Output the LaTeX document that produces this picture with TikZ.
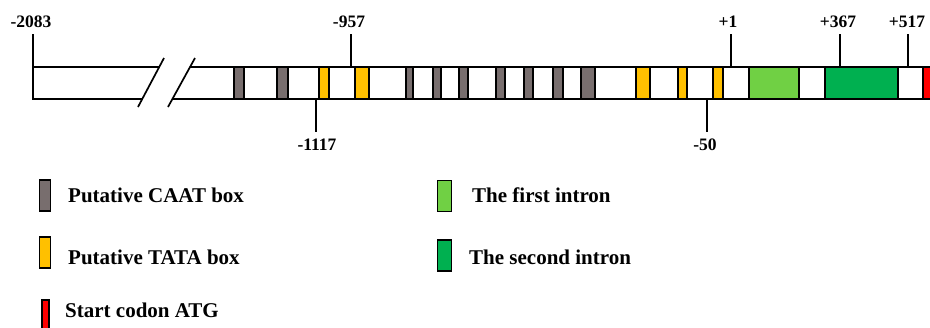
\documentclass[tikz,border=0pt]{standalone}
\usepackage{fontspec}
\setmainfont{Liberation Serif}
\definecolor{caat}{RGB}{120,110,110}
\definecolor{tata}{RGB}{255,192,0}
\definecolor{introna}{RGB}{112,208,68}
\definecolor{intronb}{RGB}{0,176,80}
\definecolor{atg}{RGB}{255,0,0}
\tikzset{
  barline/.style={line width=1.7pt, line cap=butt},
  seg/.style={draw=black, line width=1.2pt, inner sep=0pt, outer sep=0pt, minimum height=32pt},
  tickline/.style={line width=1.1pt},
  poslabel/.style={font=\fontsize{17.5}{20}\selectfont\bfseries, inner sep=1pt},
  legtext/.style={font=\fontsize{21}{24}\selectfont\bfseries, anchor=west, inner sep=0pt},
  legbox/.style={draw=black, line width=1.1pt, inner sep=0pt, outer sep=0pt}
}
\begin{document}
\begin{tikzpicture}[x=1pt,y=-1pt]
\useasboundingbox (0,0) rectangle (930,327);
\clip (0,0) rectangle (930,327);

% gene body, split by a break
\fill[white] (33,67) -- (159,67) -- (142,99) -- (33,99) -- cycle;
\fill[white] (190,67) -- (945,67) -- (945,99) -- (172.4,99) -- cycle;
\draw[barline] (159,67) -- (33,67) -- (33,99) -- (142,99);
\draw[barline] (190,67) -- (945,67);
\draw[barline] (172.4,99) -- (945,99);
\draw[barline] (138,107) -- (164,58);
\draw[barline] (168,107) -- (195,58);

% putative CAAT boxes
\foreach \a/\b [count=\i] in {234/244,277/288,406/413,433/441,459/468,496/505,524/533,553/563,581/595}
  \node[seg, fill=caat, minimum width={(\b-\a)*1pt}] (caat\i) at ({(\a+\b)/2},83) {};
% putative TATA boxes
\foreach \a/\b [count=\i] in {319/329,355/369,636/650,678/687,713/723}
  \node[seg, fill=tata, minimum width={(\b-\a)*1pt}] (tata\i) at ({(\a+\b)/2},83) {};
% introns and start codon
\node[seg, fill=introna, minimum width=50pt] (intron1) at (774,83) {};
\node[seg, fill=intronb, minimum width=73pt] (intron2) at (861.5,83) {};
\node[seg, fill=atg, minimum width=12pt] (start) at (929,83) {};

% position marks above the bar
\coordinate (t2083) at (33,67);
\coordinate (t957) at (351,67);
\coordinate (tp1) at (731,67);
\coordinate (tp367) at (840,67);
\coordinate (tp517) at (908,67);
\node[poslabel] (p2083) at (31,22) {-2083};
\node[poslabel] (p957) at (349,22) {-957};
\node[poslabel] (pp1) at (728,22) {+1};
\node[poslabel] (pp367) at (838,22) {+367};
\node[poslabel] (pp517) at (907,22) {+517};
\draw[tickline] (t2083 |- 0,34) -- (t2083);
\draw[tickline] (t957 |- 0,34) -- (t957);
\draw[tickline] (tp1 |- 0,34) -- (tp1);
\draw[tickline] (tp367 |- 0,34) -- (tp367);
\draw[tickline] (tp517 |- 0,34) -- (tp517);

% position marks below the bar
\coordinate (t1117) at (316,99);
\coordinate (t50) at (707,99);
\node[poslabel] (p1117) at (317,145) {-1117};
\node[poslabel] (p50) at (705,145) {-50};
\draw[tickline] (t1117) -- (t1117 |- 0,132);
\draw[tickline] (t50) -- (t50 |- 0,132);

% legend
\node[legbox, fill=caat, minimum width=11pt, minimum height=31pt] (kcaat) at (45,195.5) {};
\node[legbox, fill=tata, minimum width=11pt, minimum height=31pt] (ktata) at (45,252.5) {};
\node[legbox, fill=atg, minimum width=7pt, minimum height=32pt] (katg) at (45.5,316) {};
\node[legbox, fill=introna, minimum width=14pt, minimum height=31pt] (kintron1) at (444.5,196) {};
\node[legbox, fill=intronb, minimum width=14pt, minimum height=31pt] (kintron2) at (444.5,255.5) {};
\node[legtext] (lcaat) at (68,195) {Putative CAAT box};
\node[legtext] (ltata) at (68,257) {Putative TATA box};
\node[legtext] (latg) at (65,310) {Start codon ATG};
\node[legtext] (lintron1) at (472,195) {The first intron};
\node[legtext] (lintron2) at (469,257) {The second intron};
\end{tikzpicture}
\end{document}
